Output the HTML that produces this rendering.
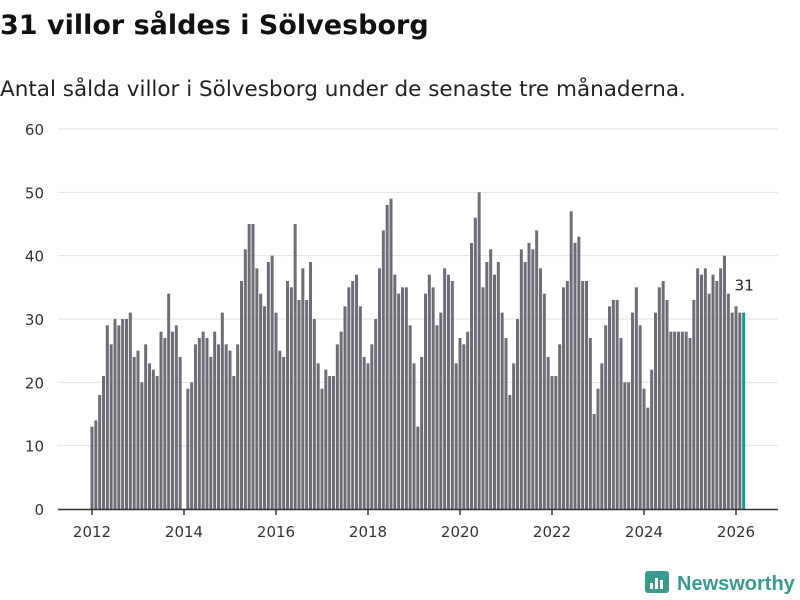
<!DOCTYPE html>
<html><head><meta charset="utf-8"><style>
body{margin:0;background:#fff;font-family:"DejaVu Sans","Liberation Sans",sans-serif;}
#wrap{position:relative;width:800px;height:600px;overflow:hidden;}
h1{position:absolute;left:0;top:10px;margin:0;font-size:27px;font-weight:bold;color:#111;}
p.sub{position:absolute;left:0;top:77px;margin:0;font-size:21.5px;color:#222;}
</style></head><body>
<div id="wrap">
<h1>31 villor såldes i Sölvesborg</h1>
<p class="sub">Antal sålda villor i Sölvesborg under de senaste tre månaderna.</p>
<svg id="chart" width="800" height="600" style="position:absolute;left:0;top:0"></svg>
</div>
<script>
const years=[2012,2013,2014,2015,2016,2017,2018,2019,2020,2021,2022,2023,2024,2025,2026];
const yTicks=[0,10,20,30,40,50,60];
const xTickYears=[2012,2014,2016,2018,2020,2022,2024,2026];
const sales=[
13,14,18,21,29,26,30,29,30,30,31,24,
25,20,26,23,22,21,28,27,34,28,29,24,
0,19,20,26,27,28,27,24,28,26,31,26,
25,21,26,36,41,45,45,38,34,32,39,40,
31,25,24,36,35,45,33,38,33,39,30,23,
19,22,21,21,26,28,32,35,36,37,32,24,
23,26,30,38,44,48,49,37,34,35,35,29,
23,13,24,34,37,35,29,31,38,37,36,23,
27,26,28,42,46,50,35,39,41,37,39,31,
27,18,23,30,41,39,42,41,44,38,34,24,
21,21,26,35,36,47,42,43,36,36,27,15,
19,23,29,32,33,33,27,20,20,31,35,29,
19,16,22,31,35,36,33,28,28,28,28,28,
27,33,38,37,38,34,37,36,38,40,34,31,
32,31,31];
const svg=document.getElementById('chart');
const NS='http://www.w3.org/2000/svg';
const x0=92,pxPerMonth=46/12,yBase=509,pxPerUnit=380/60;
const xs=i=>x0+i*pxPerMonth;
const ys=v=>yBase-v*pxPerUnit;
function mk(t,a){const e=document.createElementNS(NS,t);for(const k in a)e.setAttribute(k,a[k]);svg.appendChild(e);return e;}
yTicks.forEach(v=>{
  if(v>0){const g=mk('line',{x1:58,x2:778,y1:ys(v),y2:ys(v),stroke:'#e2e2e2','stroke-width':1});
  
  }
  const t=mk('text',{x:44,y:ys(v)+6,'text-anchor':'end','font-size':15,fill:'#333'});
  t.textContent=v;
  
  
});
sales.forEach((v,i)=>{
  const last=i===sales.length-1;
  const r=mk('rect',{x:xs(i)-1.5,y:ys(v),width:3,height:v*pxPerUnit,fill:last?'#1a9a8f':'#6e6d75'});
  
  
});
const ax=mk('line',{x1:58,x2:778,y1:yBase+0.5,y2:yBase+0.5,stroke:'#333','stroke-width':1.5});


xTickYears.forEach(y=>{
  const i=(y-years[0])*12;
  const tk=mk('line',{x1:xs(i),x2:xs(i),y1:yBase,y2:yBase+6,stroke:'#333','stroke-width':1.5});
  
  
  const t=mk('text',{x:xs(i),y:537,'text-anchor':'middle','font-size':15,fill:'#333'});
  t.textContent=y;
  
  
});
const li=sales.length-1;
const lab=mk('text',{x:xs(li)-9,y:ys(sales[li])-22,'font-size':15,fill:'#222'});
lab.textContent=sales[li];


const lg=mk('g',{});


const b=document.createElementNS(NS,'rect');
b.setAttribute('x',645);b.setAttribute('y',571);b.setAttribute('width',24);b.setAttribute('height',22);b.setAttribute('rx',3);b.setAttribute('fill','#3a9a8e');lg.appendChild(b);
[[650,583,3,6],[655,578,3,11],[660,580,3,9]].forEach(a=>{const r=document.createElementNS(NS,'rect');r.setAttribute('x',a[0]);r.setAttribute('y',a[1]);r.setAttribute('width',a[2]);r.setAttribute('height',a[3]);r.setAttribute('fill','#fff');lg.appendChild(r);});
svg.appendChild(lg);
const lt=mk('text',{x:677,y:590,'font-size':20,'font-weight':'bold',fill:'#3a9a8e','font-family':'Liberation Sans, sans-serif'});
lt.textContent='Newsworthy';


</script>
</body></html>
